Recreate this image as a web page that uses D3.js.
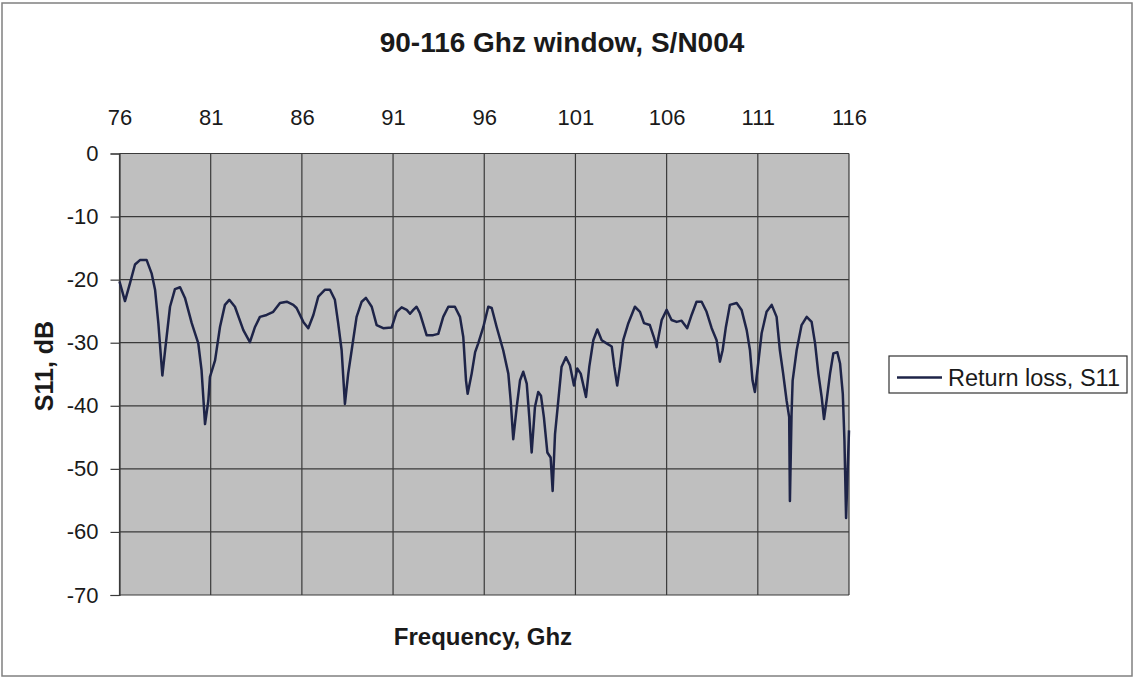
<!DOCTYPE html>
<html>
<head>
<meta charset="utf-8">
<script src="https://cdn.jsdelivr.net/npm/d3@7"></script>
<style>
  body { margin: 0; background: #fff; }
  svg text { font-family: "Liberation Sans", Arial, sans-serif; fill: #1a1a1a; }
</style>
</head>
<body>
<div class="chart"></div>
<script>
// Frequency points (GHz)
const freqs = [
    76.00, 76.30, 76.58, 76.85, 77.12, 77.49, 77.76, 77.95, 78.13, 78.35,
    78.50, 78.77, 79.04, 79.32, 79.59, 79.96, 80.32, 80.50, 80.69, 80.87,
    80.96, 81.24, 81.51, 81.78, 82.02, 82.33, 82.79, 83.15, 83.43, 83.70,
    84.07, 84.43, 84.80, 85.17, 85.53, 85.71, 86.08, 86.35, 86.63, 86.90,
    87.27, 87.54, 87.81, 87.99, 88.18, 88.36, 88.54, 88.73, 89.00, 89.28,
    89.51, 89.83, 90.10, 90.46, 90.92, 91.20, 91.47, 91.75, 91.93, 92.11,
    92.29, 92.47, 92.84, 93.20, 93.48, 93.75, 94.03, 94.39, 94.67, 94.85,
    95.00, 95.09, 95.31, 95.50, 95.67, 95.95, 96.22, 96.41, 96.68, 97.04,
    97.32, 97.45, 97.59, 97.78, 97.96, 98.14, 98.33, 98.47, 98.60, 98.78,
    98.96, 99.11, 99.27, 99.46, 99.64, 99.75, 99.88, 100.06, 100.24, 100.48,
    100.70, 100.92, 101.10, 101.29, 101.58, 101.76, 101.98, 102.20, 102.44, 102.71,
    102.99, 103.13, 103.29, 103.44, 103.62, 103.90, 104.26, 104.54, 104.76, 105.08,
    105.30, 105.45, 105.73, 106.00, 106.27, 106.55, 106.82, 107.13, 107.37, 107.64,
    107.92, 108.19, 108.47, 108.74, 108.92, 109.07, 109.25, 109.47, 109.84, 110.11,
    110.39, 110.57, 110.71, 110.84, 111.02, 111.21, 111.48, 111.76, 112.03, 112.21,
    112.39, 112.58, 112.72, 112.76, 112.85, 112.91, 113.13, 113.40, 113.68, 113.95,
    114.14, 114.32, 114.50, 114.63, 114.77, 114.96, 115.14, 115.36, 115.51, 115.66,
    115.75, 115.84, 115.92, 116.00
];

// Return loss S11 (dB) at each frequency
const s11 = [
    -20.3, -23.4, -20.5, -17.6, -16.9, -16.9, -19.0, -21.6, -26.9, -35.2,
    -31.2, -24.3, -21.5, -21.2, -22.9, -26.9, -30.1, -34.4, -42.9, -39.2,
    -35.4, -32.8, -27.5, -24.0, -23.2, -24.3, -28.0, -29.9, -27.5, -25.9,
    -25.6, -25.1, -23.7, -23.5, -24.0, -24.5, -26.7, -27.7, -25.6, -22.7,
    -21.6, -21.6, -23.2, -26.9, -31.2, -39.7, -34.9, -31.2, -25.9, -23.5,
    -22.9, -24.3, -27.2, -27.7, -27.6, -25.1, -24.4, -24.8, -25.4, -24.8,
    -24.3, -25.3, -28.8, -28.8, -28.6, -25.9, -24.3, -24.3, -25.9, -29.1,
    -36.0, -38.1, -34.9, -31.5, -30.1, -27.5, -24.3, -24.5, -27.5, -31.2,
    -34.9, -39.2, -45.3, -40.2, -36.0, -34.6, -36.5, -41.8, -47.4, -40.2,
    -37.8, -38.4, -41.8, -47.4, -48.2, -53.5, -44.5, -39.2, -33.8, -32.3,
    -33.6, -36.8, -34.1, -34.9, -38.6, -33.8, -29.6, -27.9, -29.6, -30.1,
    -30.6, -33.8, -36.8, -33.8, -29.6, -26.9, -24.3, -25.1, -26.9, -27.2,
    -29.1, -30.7, -26.4, -24.8, -26.4, -26.7, -26.5, -27.7, -25.6, -23.5,
    -23.5, -25.1, -27.7, -29.6, -33.0, -31.2, -27.5, -24.0, -23.7, -24.8,
    -28.0, -31.2, -36.0, -37.8, -33.3, -28.5, -25.1, -24.0, -25.9, -31.2,
    -34.9, -39.2, -41.8, -55.1, -41.3, -36.0, -31.2, -27.2, -25.9, -26.7,
    -30.1, -34.9, -38.6, -42.1, -39.2, -34.9, -31.7, -31.5, -33.3, -38.1,
    -45.5, -57.8, -50.8, -43.9
];

const xTicks = [76, 81, 86, 91, 96, 101, 106, 111, 116];
const yTicks = [0, -10, -20, -30, -40, -50, -60, -70];

const titleText = "90-116 Ghz window, S/N004";
const xTitle = "Frequency, Ghz";
const yTitle = "S11, dB";
const seriesName = "Return loss, S11";

const W = 1133, H = 677;
const plot = { left: 119.5, right: 849, top: 153.5, bottom: 595 };

const svg = d3.select(".chart").append("svg")
    .attr("width", W)
    .attr("height", H)
    .style("display", "block");

// outer chart border
svg.append("rect")
    .attr("x", 2).attr("y", 3)
    .attr("width", 1130).attr("height", 673)
    .attr("fill", "#fff")
    .attr("stroke", "#808080")
    .attr("stroke-width", 1.5);

const x = d3.scaleLinear().domain([76, 116]).range([plot.left, plot.right]);
const y = d3.scaleLinear().domain([-70, 0]).range([plot.bottom, plot.top]);

// plot area
svg.append("rect")
    .attr("x", plot.left).attr("y", plot.top)
    .attr("width", plot.right - plot.left)
    .attr("height", plot.bottom - plot.top)
    .attr("fill", "#bfbfbf");

// gridlines
svg.append("g")
    .selectAll("line")
    .data(xTicks)
    .enter().append("line")
    .attr("x1", d => x(d)).attr("x2", d => x(d))
    .attr("y1", plot.top).attr("y2", plot.bottom)
    .attr("stroke", "#3a3a3a").attr("stroke-width", 1.2);

svg.append("g")
    .selectAll("line")
    .data(yTicks)
    .enter().append("line")
    .attr("x1", plot.left).attr("x2", plot.right)
    .attr("y1", d => y(d)).attr("y2", d => y(d))
    .attr("stroke", "#3a3a3a").attr("stroke-width", 1.2);

// top axis (labels only)
const xAxis = svg.append("g")
    .attr("transform", `translate(0,${plot.top})`)
    .call(d3.axisTop(x).tickValues(xTicks).tickSize(0).tickPadding(29).tickFormat(d => String(d)));
xAxis.select(".domain").remove();
xAxis.selectAll("text")
    .style("font-size", "22px")
    .style("font-family", "'Liberation Sans', Arial, sans-serif")
    .attr("fill", "#1a1a1a");

// left axis, plain hyphen minus like the original
const yAxis = svg.append("g")
    .attr("transform", `translate(${plot.left},0)`)
    .call(d3.axisLeft(y).tickValues(yTicks).tickSize(9).tickPadding(12).tickFormat(d => String(d)));
yAxis.select(".domain").attr("stroke", "#3a3a3a").attr("stroke-width", 1.2);
yAxis.selectAll(".tick line").attr("stroke", "#3a3a3a").attr("stroke-width", 1.2);
yAxis.selectAll("text")
    .style("font-size", "22px")
    .style("font-family", "'Liberation Sans', Arial, sans-serif")
    .attr("fill", "#1a1a1a");

// the trace
const pts = freqs.map((f, i) => [f, s11[i]]);
svg.append("path")
    .datum(pts)
    .attr("fill", "none")
    .attr("stroke", "#1e2448")
    .attr("stroke-width", 2.5)
    .attr("stroke-linejoin", "round")
    .attr("d", d3.line().x(d => x(d[0])).y(d => y(d[1])));

// titles
svg.append("text")
    .attr("x", 562).attr("y", 52)
    .attr("text-anchor", "middle")
    .style("font-size", "28px").style("font-weight", "bold")
    .text(titleText);

svg.append("text")
    .attr("x", 483).attr("y", 645)
    .attr("text-anchor", "middle")
    .style("font-size", "24px").style("font-weight", "bold")
    .text(xTitle);

svg.append("text")
    .attr("transform", "translate(53,366) rotate(-90)")
    .attr("text-anchor", "middle")
    .style("font-size", "25px").style("font-weight", "bold")
    .text(yTitle);

// legend
const lg = svg.append("g");
lg.append("rect")
    .attr("x", 889).attr("y", 356)
    .attr("width", 238).attr("height", 37)
    .attr("fill", "#fff")
    .attr("stroke", "#333").attr("stroke-width", 1.2);
lg.append("line")
    .attr("x1", 897).attr("x2", 942)
    .attr("y1", 377.5).attr("y2", 377.5)
    .attr("stroke", "#1e2448").attr("stroke-width", 2.5);
lg.append("text")
    .attr("x", 948).attr("y", 386)
    .style("font-size", "23.5px")
    .text(seriesName);
</script>
</body>
</html>
